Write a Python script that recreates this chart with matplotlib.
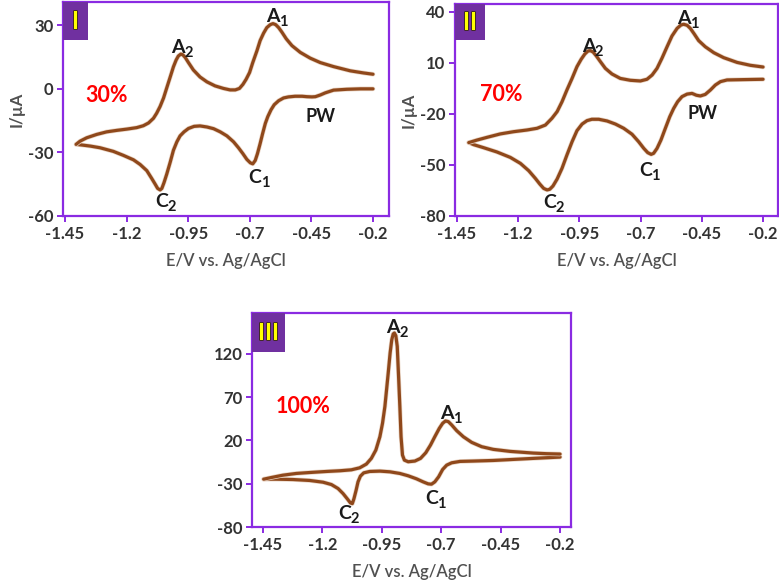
import matplotlib
matplotlib.use('Agg')
import matplotlib.pyplot as plt
import matplotlib.patheffects as pe
from matplotlib.patches import Rectangle

plt.rcParams['font.family'] = ['Lato', 'DejaVu Sans']
plt.rcParams['axes.unicode_minus'] = False

# ---- data (E in V, I in uA) ----
# panel I : 30 %  (cathodic sweep, then anodic sweep)
e1_down = [-0.200, -0.251, -0.306, -0.360, -0.394, -0.414, -0.434, -0.448, -0.468, -0.488, -0.516,
           -0.543, -0.563, -0.583, -0.601, -0.614, -0.627, -0.637, -0.648, -0.658, -0.669, -0.678,
           -0.688, -0.698, -0.712, -0.728, -0.746, -0.766, -0.793, -0.820, -0.847, -0.874, -0.902,
           -0.926, -0.949, -0.967, -0.983, -0.996, -1.010, -1.023, -1.037, -1.048, -1.057, -1.064,
           -1.074, -1.084, -1.098, -1.118, -1.145, -1.172, -1.213, -1.254, -1.308, -1.348, -1.382,
           -1.405]
i1_down = [0.0, 0.0, -0.2, -0.6, -1.9, -2.9, -3.7, -3.8, -3.7, -3.5, -3.5,
           -3.8, -4.3, -5.6, -7.5, -9.9, -13.1, -16.3, -21.1, -25.8, -30.6, -33.8,
           -35.4, -34.9, -33.3, -30.6, -27.8, -25.0, -22.2, -20.3, -18.8, -18.0, -17.5,
           -17.7, -18.7, -20.3, -22.2, -25.0, -29.0, -34.6, -40.2, -44.2, -47.0, -47.7,
           -47.0, -45.0, -42.3, -38.6, -35.7, -33.5, -31.4, -29.5, -27.8, -27.0, -26.5,
           -26.2]
e1_up = [-1.405, -1.389, -1.362, -1.321, -1.281, -1.240, -1.199, -1.159, -1.132, -1.111, -1.091,
         -1.078, -1.064, -1.050, -1.037, -1.023, -1.010, -0.999, -0.990, -0.980, -0.972, -0.962,
         -0.949, -0.929, -0.902, -0.874, -0.841, -0.807, -0.780, -0.759, -0.742, -0.728, -0.715,
         -0.701, -0.688, -0.671, -0.658, -0.644, -0.631, -0.617, -0.606, -0.595, -0.583, -0.570,
         -0.552, -0.529, -0.495, -0.455, -0.414, -0.360, -0.292, -0.238, -0.200]
i1_up = [-26.2, -24.7, -23.1, -21.5, -20.3, -19.6, -19.0, -18.3, -17.4, -16.1, -13.9,
         -11.5, -8.3, -4.3, 0.5, 5.6, 10.4, 13.6, 15.5, 16.4, 16.1, 14.8,
         12.4, 8.9, 5.6, 3.3, 1.4, 0.2, -0.5, -0.5, 0.2, 2.1, 4.5,
         7.7, 12.4, 18.0, 22.8, 26.3, 28.9, 30.3, 30.8, 30.3, 28.9, 26.8,
         23.6, 20.4, 17.2, 14.5, 12.4, 10.5, 8.5, 7.5, 6.9]

# panel II : 70 %
e2_down = [-0.200, -0.279, -0.347, -0.374, -0.395, -0.415, -0.436, -0.456, -0.472, -0.490, -0.510,
           -0.531, -0.549, -0.565, -0.581, -0.599, -0.617, -0.633, -0.647, -0.657, -0.671, -0.687,
           -0.708, -0.735, -0.769, -0.803, -0.837, -0.871, -0.899, -0.919, -0.939, -0.960, -0.980,
           -1.001, -1.021, -1.041, -1.058, -1.071, -1.082, -1.096, -1.112, -1.130, -1.157, -1.191,
           -1.232, -1.287, -1.341, -1.382, -1.402]
i2_down = [0.3, 0.1, -0.1, -1.1, -3.1, -6.0, -8.6, -9.5, -9.1, -8.0, -8.4,
           -9.9, -12.9, -16.8, -21.7, -28.5, -35.4, -40.3, -43.2, -43.8, -42.8, -40.3,
           -36.4, -32.0, -28.5, -26.0, -24.2, -23.2, -23.2, -24.0, -26.0, -29.9, -36.4,
           -44.2, -52.0, -58.3, -62.4, -64.3, -64.7, -63.8, -61.2, -57.9, -53.4, -49.1,
           -45.6, -42.4, -39.9, -38.1, -36.9]
e2_up = [-1.402, -1.368, -1.327, -1.273, -1.219, -1.164, -1.123, -1.089, -1.062, -1.041, -1.021,
         -1.001, -0.980, -0.960, -0.943, -0.928, -0.915, -0.905, -0.894, -0.881, -0.864, -0.844,
         -0.817, -0.783, -0.742, -0.701, -0.674, -0.653, -0.633, -0.613, -0.592, -0.572, -0.551,
         -0.535, -0.524, -0.510, -0.497, -0.481, -0.463, -0.436, -0.401, -0.361, -0.306, -0.252,
         -0.200]
i2_up = [-36.9, -35.4, -33.8, -31.8, -30.5, -29.5, -28.5, -26.6, -22.6, -18.7, -12.9,
         -6.0, 0.8, 7.7, 12.0, 15.1, 16.9, 17.1, 16.3, 14.0, 10.6, 6.7,
         3.4, 0.8, -0.3, -0.7, 0.3, 2.8, 6.7, 12.6, 19.4, 25.7, 30.2,
         32.2, 32.6, 32.0, 30.2, 26.9, 23.0, 19.4, 15.9, 13.0, 10.2, 8.5,
         7.5]

# panel III : 100 %
e3_down = [-0.200, -0.312, -0.397, -0.481, -0.565, -0.621, -0.656, -0.677, -0.694, -0.711, -0.727,
           -0.741, -0.755, -0.776, -0.804, -0.839, -0.874, -0.916, -0.958, -1.001, -1.026, -1.040,
           -1.050, -1.058, -1.067, -1.074, -1.082, -1.096, -1.113, -1.134, -1.162, -1.197, -1.253,
           -1.324, -1.394, -1.447]
i3_down = [0.7, -0.8, -2.0, -3.2, -3.9, -4.3, -5.9, -8.6, -13.6, -22.1, -27.9,
           -30.6, -30.2, -27.9, -24.4, -20.9, -18.2, -16.3, -15.5, -15.9, -17.5, -21.3,
           -27.9, -37.5, -47.2, -53.0, -52.2, -47.2, -41.4, -35.6, -31.0, -28.3, -26.3,
           -25.2, -24.8, -24.8]
e3_up = [-1.447, -1.415, -1.366, -1.310, -1.253, -1.183, -1.127, -1.078, -1.043, -1.015, -0.994,
         -0.975, -0.958, -0.947, -0.937, -0.930, -0.923, -0.915, -0.908, -0.902, -0.897, -0.891,
         -0.885, -0.880, -0.874, -0.869, -0.863, -0.855, -0.839, -0.811, -0.787, -0.765, -0.745,
         -0.727, -0.708, -0.694, -0.682, -0.670, -0.656, -0.635, -0.607, -0.572, -0.530, -0.481,
         -0.411, -0.312, -0.256, -0.200]
i3_up = [-24.8, -22.9, -20.2, -18.2, -17.1, -15.9, -15.1, -14.0, -11.7, -7.4, -0.8,
         8.8, 24.2, 39.7, 59.0, 78.3, 97.6, 120.8, 136.2, 142.8, 143.9, 140.8,
         128.5, 97.6, 59.0, 24.2, 3.0, -2.8, -4.7, -3.9, -0.8, 5.7, 14.6,
         24.2, 33.9, 39.7, 42.4, 41.6, 37.8, 31.2, 24.2, 17.7, 12.7, 9.6,
         7.3, 5.3, 4.6, 4.2]

x_ticks = [-1.45, -1.2, -0.95, -0.7, -0.45, -0.2]
x_labels = ['-1.45', '-1.2', '-0.95', '-0.7', '-0.45', '-0.2']

PURPLE = '#8a2be2'
BOX = '#7030a0'
BROWN = '#8f481b'

fig = plt.figure(figsize=(7.79, 5.82), dpi=100)

panels = [
    dict(rect=[0.0809, 0.6289, 0.4185, 0.3677], xlim=(-1.458, -0.135), ylim=(-60, 41),
         yticks=[-60, -30, 0, 30], down=(e1_down, i1_down), up=(e1_up, i1_up),
         roman='I', box=(0.077, 0.178), pct='30%', pct_xy=(-1.28, -3.3), ylabel=True,
         labels=[('A', '2', -0.976, 19.6), ('A', '1', -0.593, 34.3), ('C', '1', -0.665, -41.8),
                 ('C', '2', -1.044, -53.0), ('PW', '', -0.414, -13.1)]),
    dict(rect=[0.5841, 0.6289, 0.4146, 0.3642], xlim=(-1.458, -0.139), ylim=(-80, 44.5),
         yticks=[-80, -50, -20, 10, 40], down=(e2_down, i2_down), up=(e2_up, i2_up),
         roman='II', box=(0.093, 0.17), pct='70%', pct_xy=(-1.27, -8.9), ylabel=True,
         labels=[('A', '2', -0.899, 19.4), ('A', '1', -0.510, 36.1), ('C', '1', -0.667, -53.0),
                 ('C', '2', -1.058, -72.2), ('PW', '', -0.449, -19.7)]),
    dict(rect=[0.3235, 0.0945, 0.4095, 0.3677], xlim=(-1.496, -0.154), ylim=(-80, 167),
         yticks=[-80, -30, 20, 70, 120], down=(e3_down, i3_down), up=(e3_up, i3_up),
         roman='III', box=(0.103, 0.182), pct='100%', pct_xy=(-1.281, 59), ylabel=False,
         labels=[('A', '2', -0.888, 150.0), ('A', '1', -0.663, 51.3), ('C', '1', -0.727, -47.2),
                 ('C', '2', -1.092, -64.6)]),
]

for p in panels:
    ax = fig.add_axes(p['rect'])
    halo = [pe.Stroke(linewidth=3.3, foreground='#ead6c6'), pe.Normal()]
    for e, i in (p['down'], p['up']):
        ax.plot(e, i, color=BROWN, lw=2.3, solid_joinstyle='round',
                solid_capstyle='round', path_effects=halo)
    ax.set_xlim(*p['xlim'])
    ax.set_ylim(*p['ylim'])
    ax.set_xticks(x_ticks)
    ax.set_xticklabels(x_labels)
    ax.set_yticks(p['yticks'])
    for s in ax.spines.values():
        s.set_color(PURPLE)
        s.set_linewidth(1.6)
    ax.tick_params(direction='out', length=4, width=1.4, color=PURPLE,
                   labelsize=12, labelcolor='#333333', pad=3)
    for t in ax.get_xticklabels() + ax.get_yticklabels():
        t.set_fontweight('bold')
    ax.set_xlabel('E/V vs. Ag/AgCl', fontsize=12, color='#505050',
                  fontweight='semibold', labelpad=8)
    if p['ylabel']:
        ax.set_ylabel('I/\u00b5A', fontsize=12, color='#505050', fontweight='bold', labelpad=2)

    bw, bh = p['box']
    ax.add_patch(Rectangle((0, 1 - bh), bw, bh, transform=ax.transAxes,
                           facecolor=BOX, edgecolor='none', zorder=5, clip_on=False))
    ax.text(bw / 2, 1 - bh / 2, p['roman'], transform=ax.transAxes, ha='center', va='center',
            fontsize=17, fontweight='bold', color='#ffff00', zorder=6,
            path_effects=[pe.withStroke(linewidth=1.2, foreground='#3a2a10')])

    ax.text(*p['pct_xy'], p['pct'], color='#ff0000', fontsize=15.5, fontweight='bold',
            ha='center', va='center')
    for main, sub, x, y in p['labels']:
        if not sub:
            ax.text(x, y, main, fontsize=13, fontweight='bold', color='#1a1a1a',
                    ha='center', va='center')
            continue
        ax.annotate(main, (x, y), xytext=(-2.5, 0), textcoords='offset points',
                    fontsize=14, fontweight='bold', color='#1a1a1a', ha='center', va='center')
        ax.annotate(sub, (x, y), xytext=(5, -4), textcoords='offset points',
                    fontsize=10.5, fontweight='bold', color='#1a1a1a', ha='center', va='center')

fig.savefig('out.png', dpi=100)
